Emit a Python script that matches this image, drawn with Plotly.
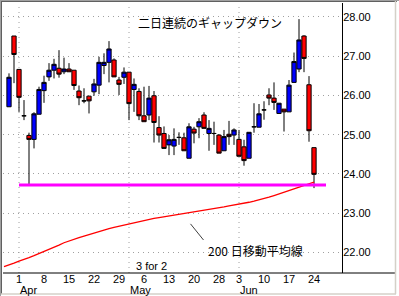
import plotly.graph_objects as go

# ---------------- data ----------------
dates = ["03-26", "03-27", "03-28",
         "04-01", "04-02", "04-03", "04-04", "04-05",
         "04-08", "04-09", "04-10", "04-11", "04-12",
         "04-15", "04-16", "04-17", "04-18", "04-19",
         "04-22", "04-23", "04-24", "04-25", "04-26",
         "04-29", "04-30", "05-01", "05-02", "05-03",
         "05-06", "05-07", "05-08", "05-09", "05-10",
         "05-13", "05-14", "05-15", "05-16", "05-17",
         "05-20", "05-21", "05-22", "05-23", "05-24",
         "05-28", "05-29", "05-30", "05-31",
         "06-03", "06-04", "06-05", "06-06", "06-07",
         "06-10", "06-11", "06-12", "06-13", "06-14",
         "06-17", "06-18", "06-19", "06-20", "06-21",
         "06-24"]

candle_dates = dates[1:]
opens = [25.71, 27.51, 26.66, 25.48, 24.98, 24.88, 25.52, 26.12, 26.47, 26.64,
         26.69, 26.60, 26.67, 26.64, 26.11, 25.86, 25.98, 26.09, 26.26, 26.76,
         26.84, 26.90, 26.39, 26.46, 26.59, 26.15, 26.10, 25.48, 25.50, 25.99,
         25.18, 25.03, 24.74, 24.71, 24.93, 24.92, 24.40, 25.14, 25.20, 25.50,
         25.03, 25.03, 24.99, 24.59, 25.01, 24.99, 24.88, 24.69, 24.40, 25.20,
         25.19, 25.63, 26.01, 25.93, 25.54, 25.65, 25.58, 26.33, 26.67, 27.51,
         26.27, 24.67]
highs = [26.56, 27.51, 26.66, 25.88, 25.05, 25.57, 26.22, 26.50, 26.82, 26.93,
         27.15, 26.96, 26.82, 26.64, 26.25, 26.18, 25.98, 26.42, 26.98, 27.07,
         27.38, 26.94, 26.47, 26.71, 26.59, 26.43, 26.18, 26.22, 26.24, 26.11,
         25.47, 25.21, 24.99, 25.16, 25.06, 25.05, 25.29, 25.20, 25.42, 25.57,
         25.37, 25.33, 25.01, 25.12, 25.35, 25.16, 25.12, 24.87, 25.06, 25.80,
         25.78, 25.85, 26.18, 26.33, 25.80, 25.65, 26.39, 27.09, 27.94, 27.53,
         26.49, 24.67]
lows = [25.71, 26.31, 25.58, 25.37, 23.72, 24.65, 25.52, 25.81, 26.37, 26.43,
        26.45, 26.54, 26.60, 26.14, 25.75, 25.80, 25.54, 25.99, 26.03, 26.54,
        26.33, 26.47, 26.01, 26.29, 25.37, 25.58, 25.37, 25.33, 25.37, 24.80,
        24.80, 24.65, 24.48, 24.48, 24.74, 24.59, 24.40, 24.78, 24.91, 25.16,
        24.59, 24.74, 24.53, 24.59, 24.74, 24.74, 24.45, 24.21, 24.40, 25.05,
        25.19, 25.38, 25.75, 25.63, 25.54, 25.08, 25.58, 26.33, 26.59, 26.59,
        24.82, 23.64]
closes = [26.46, 27.04, 25.95, 25.48, 24.88, 25.53, 26.15, 26.33, 26.64, 26.79,
          26.54, 26.67, 26.60, 26.25, 25.94, 25.86, 25.86, 26.29, 26.84, 26.84,
          27.18, 26.47, 26.28, 26.59, 25.79, 26.28, 25.48, 25.33, 25.93, 25.31,
          24.99, 24.65, 24.87, 24.88, 24.93, 24.59, 25.20, 25.04, 25.33, 25.16,
          25.16, 25.03, 24.53, 24.95, 24.95, 25.12, 24.45, 24.34, 25.06, 25.20,
          25.53, 25.63, 25.93, 25.82, 25.80, 25.58, 26.26, 26.86, 27.41, 26.94,
          25.10, 23.99]

ma200 = [21.64, 21.68, 21.73, 21.78, 21.82, 21.87, 21.92, 21.97, 22.03, 22.08,
         22.14, 22.19, 22.25, 22.30, 22.34, 22.38, 22.42, 22.46, 22.50, 22.54,
         22.58, 22.61, 22.64, 22.67, 22.70, 22.73, 22.76, 22.79, 22.82, 22.85,
         22.87, 22.89, 22.91, 22.93, 22.95, 22.97, 22.99, 23.01, 23.03, 23.05,
         23.08, 23.10, 23.12, 23.14, 23.16, 23.19, 23.21, 23.23, 23.25, 23.28,
         23.31, 23.34, 23.38, 23.41, 23.45, 23.49, 23.53, 23.57, 23.61, 23.65,
         23.70, 23.74, 23.79]

support_level = 23.72
support_start, support_end = "04-01", 64.4

tick_dates = ["04-01", "04-08", "04-15", "04-22", "04-29", "05-06", "05-13",
              "05-20", "05-28", "06-03", "06-10", "06-17", "06-24"]
tick_text = ["1", "8", "15", "22", "29", "6", "13", "20", "28", "3", "10", "17", "24"]
month_starts = ["04-01", "05-01", "06-03"]
month_names = ["Apr", "May", "Jun"]
y_ticks = [22, 23, 24, 25, 26, 27, 28]

title_text = "二日連続のギャップダウン"
ma_label = "200 日移動平均線"
split_label = "3 for 2"

# ---------------- layout geometry ----------------
W, H = 399, 296
L, R, T, B = 3, 342, 3, 273
def px(x):
    return (x - L) / (R - L)
def py(y):
    return (B - y) / (B - T)

idx = {d: i for i, d in enumerate(dates)}

fig = go.Figure()

fig.add_trace(go.Scatter(
    x=dates, y=ma200, mode="lines",
    line=dict(color="#ff0000", width=1.3), hoverinfo="skip", showlegend=False))

fig.add_trace(go.Candlestick(
    x=candle_dates, open=opens, high=highs, low=lows, close=closes,
    increasing=dict(fillcolor="#0000ff", line=dict(color="#000000", width=1)),
    decreasing=dict(fillcolor="#ff0000", line=dict(color="#000000", width=1)),
    whiskerwidth=0, showlegend=False))

font = "Liberation Sans, Arial, sans-serif"
jfont = "Noto Sans CJK JP, sans-serif"

shapes = []
for m in month_starts:
    shapes.append(dict(type="line", xref="x", yref="paper", x0=idx[m], x1=idx[m],
                       y0=0, y1=1, line=dict(color="#a0a0a0", width=1, dash="1px,4px"),
                       layer="below"))
shapes.append(dict(type="line", xref="x", yref="y", x0=idx[support_start], x1=support_end,
                   y0=support_level, y1=support_level,
                   line=dict(color="#ff00ff", width=3)))
shapes.append(dict(type="line", xref="x", yref="y", x0=37.3, x1=39.9,
                   y0=22.73, y1=22.32, line=dict(color="#404040", width=1)))
shapes.append(dict(type="line", xref="paper", yref="paper", x0=px(3), x1=px(396),
                   y0=py(273), y1=py(273), line=dict(color="#000000", width=1)))
# sunken border
shapes.append(dict(type="line", xref="paper", yref="paper", x0=px(0), x1=px(399),
                   y0=py(0.5), y1=py(0.5), line=dict(color="#a0a0a0", width=1)))
shapes.append(dict(type="line", xref="paper", yref="paper", x0=px(1), x1=px(397),
                   y0=py(1.5), y1=py(1.5), line=dict(color="#606060", width=1)))
shapes.append(dict(type="line", xref="paper", yref="paper", x0=px(0.5), x1=px(0.5),
                   y0=py(0), y1=py(296), line=dict(color="#a0a0a0", width=1)))
shapes.append(dict(type="line", xref="paper", yref="paper", x0=px(1.5), x1=px(1.5),
                   y0=py(1), y1=py(294), line=dict(color="#606060", width=1)))
shapes.append(dict(type="line", xref="paper", yref="paper", x0=px(395.5), x1=px(395.5),
                   y0=py(1), y1=py(294), line=dict(color="#d4d0c8", width=1.5)))
shapes.append(dict(type="line", xref="paper", yref="paper", x0=px(1), x1=px(396),
                   y0=py(294), y1=py(294), line=dict(color="#d4d0c8", width=1.5)))

annotations = []
for m, name in zip(month_starts, month_names):
    annotations.append(dict(x=idx[m], y=py(290), xref="x", yref="paper", text=name,
                            showarrow=False, xanchor="left", yanchor="middle",
                            xshift=-1,
                            font=dict(family=font, size=11, color="#000000")))
annotations.append(dict(x=41.2, y=27.85, xref="x", yref="y", text=title_text,
                        showarrow=False, font=dict(family=jfont, size=12, color="#000000")))
annotations.append(dict(x=50.2, y=22.04, xref="x", yref="y", text=ma_label,
                        showarrow=False, font=dict(family=jfont, size=12, color="#000000")))
annotations.append(dict(x=29.4, y=21.66, xref="x", yref="y", text=split_label,
                        showarrow=False, font=dict(family=font, size=11, color="#000000")))

fig.update_layout(
    width=W, height=H,
    margin=dict(l=L, r=W - R, t=T, b=H - B),
    paper_bgcolor="#ffffff", plot_bgcolor="#ffffff",
    shapes=shapes, annotations=annotations,
    boxgap=0.15, boxgroupgap=0,
    xaxis=dict(type="category", categoryorder="array", categoryarray=dates,
               range=[-0.2, 67.6], rangeslider=dict(visible=False),
               tickvals=tick_dates, ticktext=tick_text, ticks="", showgrid=False,
               showline=False, zeroline=False, ticklabelstandoff=-2,
               tickfont=dict(family=font, size=11, color="#000000")),
    yaxis=dict(side="right", range=[21.48, 28.35], tickvals=y_ticks,
               tickformat=".2f", ticks="", showgrid=True, gridcolor="#a0a0a0",
               griddash="1px,4px", gridwidth=1, showline=True, linecolor="#000000",
               linewidth=1, zeroline=False, ticklabelstandoff=-2,
               tickfont=dict(family=font, size=11, color="#000000")),
    hovermode=False,
)

fig.write_html("out.html")
